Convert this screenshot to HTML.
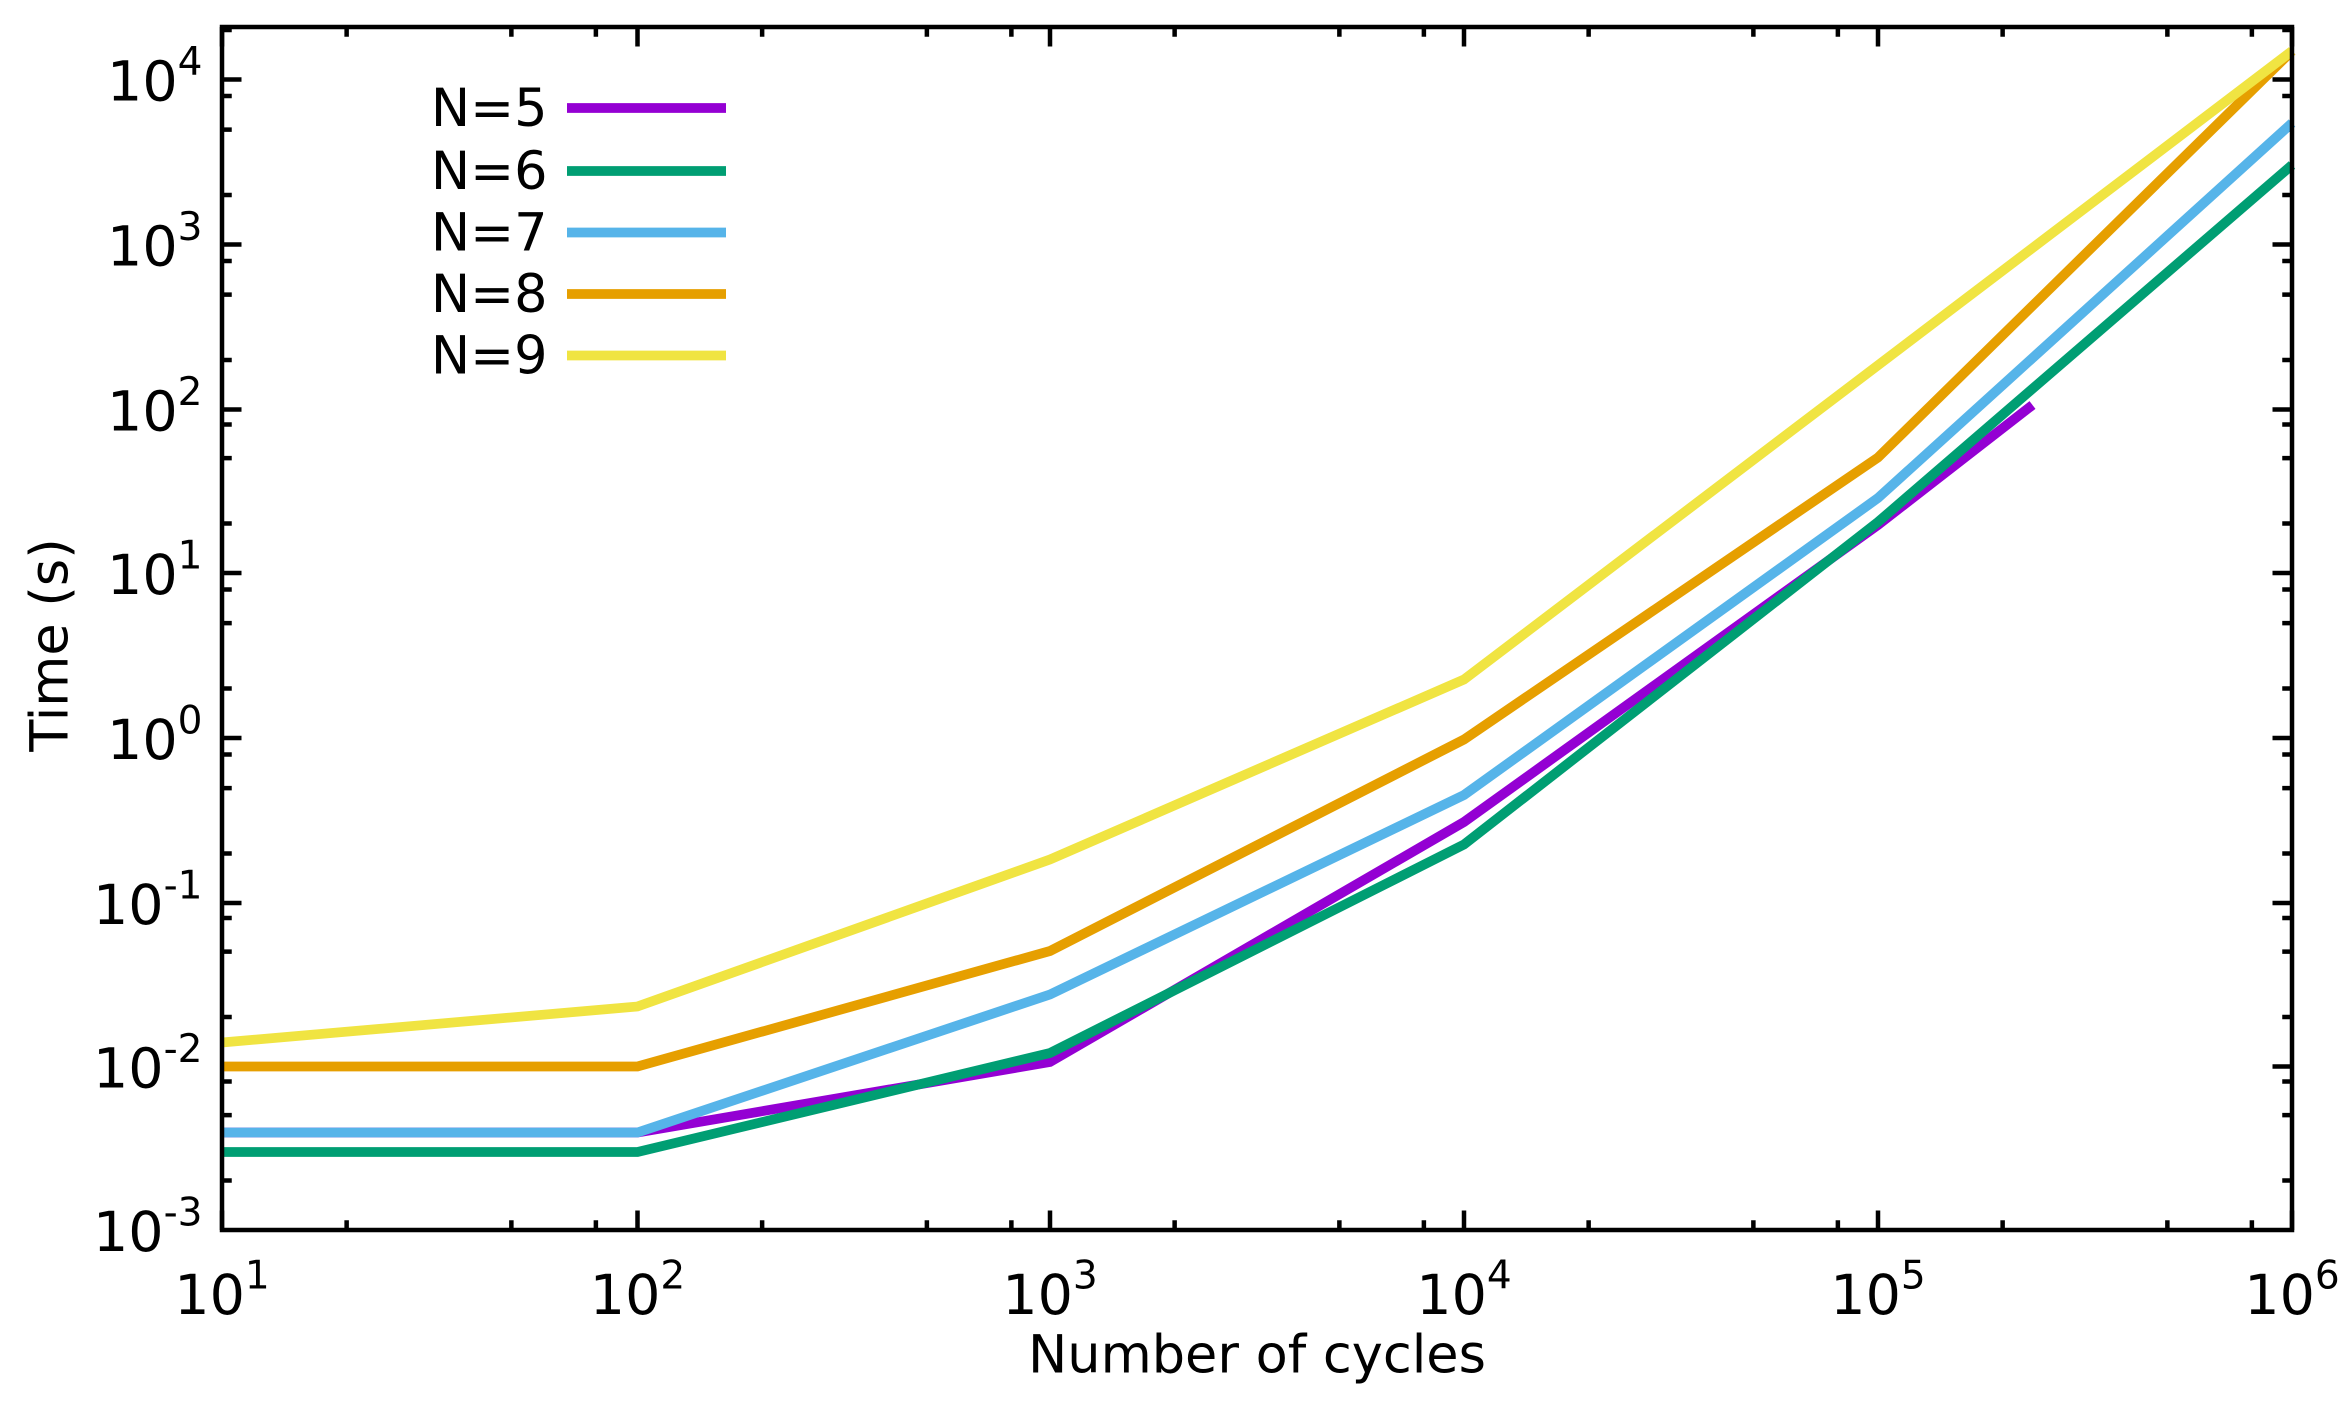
<!DOCTYPE html>
<html><head><meta charset="utf-8"><style>html,body{margin:0;padding:0;background:#fff}svg{display:block}</style></head>
<body>
<svg width="2351" height="1410" viewBox="0 0 1567.33 940" xmlns="http://www.w3.org/2000/svg" font-family="'DejaVu Sans', 'Liberation Sans', sans-serif">
<rect width="1567.33" height="940" fill="#fff"/>
<g stroke="#000" stroke-width="3" fill="none">
<path d="M148,820v-13M425,820v-13M700,820v-13M976,820v-13M1252,820v-13M1528,820v-13
M148,18v13M425,18v13M700,18v13M976,18v13M1252,18v13M1528,18v13"/>
<path id="xminor" d=""/>
<path id="yminor" d=""/>
<path d="M148,53h13M148,163h13M148,273h13M148,382h13M148,492h13M148,602h13M148,711h13M1528,53h-13M1528,163h-13M1528,273h-13M1528,382h-13M1528,492h-13M1528,602h-13M1528,711h-13"/>
</g>
<script>
(function(){
var xs=[148,425,700,976,1252],d='';
var m=[2,5,8];
xs.forEach(function(x){m.forEach(function(k){var p=x+276*Math.log10(k);d+='M'+p+',820v-6.5M'+p+',18v6.5';});});
document.getElementById('xminor').setAttribute('d',d);
var ys=[820,711,602,492,382,273,163,53],e='';
ys.forEach(function(y){m.forEach(function(k){var p=y-109.6*Math.log10(k);if(p>18)e+='M148,'+p+'h6.5M1528,'+p+'h-6.5';});});
document.getElementById('yminor').setAttribute('d',e);
})();
</script>
<g fill="none" stroke-width="6.5" stroke-linejoin="miter">
<polyline stroke="#9400d3" points="148,755 425,755 700,708 976,548 1252,350 1355,270"/>
<polyline stroke="#009e73" points="148,768 425,768 700,702 976,563 1252,348 1528,110"/>
<polyline stroke="#56b4e9" points="148,755 425,755 700,663 976,530 1252,332 1528,82"/>
<polyline stroke="#e69f00" points="148,711 425,711 700,634 976,493 1252,305 1528,34"/>
<polyline stroke="#f0e442" points="148,695 425,671 700,573 976,453 1528,34"/>
</g>
<rect x="148" y="18" width="1380" height="802" fill="none" stroke="#000" stroke-width="3"/>
<g font-size="37" fill="#000" text-anchor="end">
<text x="135" y="67">10<tspan font-size="26" dy="-17">4</tspan></text>
<text x="135" y="177">10<tspan font-size="26" dy="-17">3</tspan></text>
<text x="135" y="287">10<tspan font-size="26" dy="-17">2</tspan></text>
<text x="135" y="396">10<tspan font-size="26" dy="-17">1</tspan></text>
<text x="135" y="506">10<tspan font-size="26" dy="-17">0</tspan></text>
<text x="135" y="616">10<tspan font-size="26" dy="-17">-1</tspan></text>
<text x="135" y="725">10<tspan font-size="26" dy="-17">-2</tspan></text>
<text x="135" y="834">10<tspan font-size="26" dy="-17">-3</tspan></text>
</g>
<g font-size="37" fill="#000" text-anchor="middle">
<text x="148" y="876">10<tspan font-size="26" dy="-17">1</tspan></text>
<text x="425" y="876">10<tspan font-size="26" dy="-17">2</tspan></text>
<text x="700" y="876">10<tspan font-size="26" dy="-17">3</tspan></text>
<text x="976" y="876">10<tspan font-size="26" dy="-17">4</tspan></text>
<text x="1252" y="876">10<tspan font-size="26" dy="-17">5</tspan></text>
<text x="1528" y="876">10<tspan font-size="26" dy="-17">6</tspan></text>
<text x="838" y="915" font-size="35">Number of cycles</text>
<text transform="translate(45,430) rotate(-90)" font-size="35">Time (s)</text>
</g>
<g font-size="35" fill="#000" text-anchor="end">
<text x="365" y="84">N=5</text>
<text x="365" y="126">N=6</text>
<text x="365" y="167">N=7</text>
<text x="365" y="208">N=8</text>
<text x="365" y="249">N=9</text>
</g>
<g stroke-width="6.5">
<line x1="378" y1="72" x2="484" y2="72" stroke="#9400d3"/>
<line x1="378" y1="114" x2="484" y2="114" stroke="#009e73"/>
<line x1="378" y1="155" x2="484" y2="155" stroke="#56b4e9"/>
<line x1="378" y1="196" x2="484" y2="196" stroke="#e69f00"/>
<line x1="378" y1="237" x2="484" y2="237" stroke="#f0e442"/>
</g>
</svg>
</body></html>
